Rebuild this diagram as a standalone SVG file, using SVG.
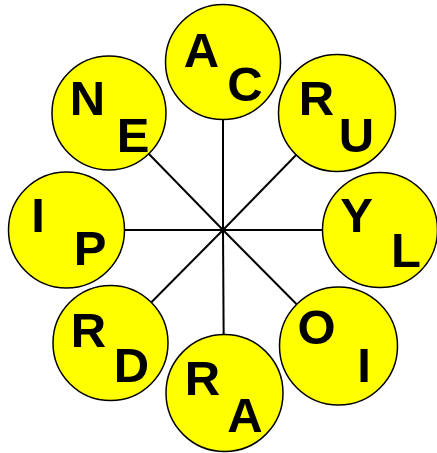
<svg xmlns="http://www.w3.org/2000/svg" width="437" height="453" viewBox="0 0 437 453">
<style>
.c{fill:#ffff00;stroke:#000;stroke-width:1.5}
.t{font-family:"Liberation Sans",Arial,sans-serif;font-weight:bold;font-size:49px;fill:#000;text-anchor:middle}
.l{stroke:#000;stroke-width:2}
</style>
<rect width="437" height="453" fill="#fff"/>
<g id="connectors">
<line class="l" x1="223" y1="230" x2="223" y2="62"/>
<line class="l" x1="223" y1="230" x2="109" y2="113"/>
<line class="l" x1="223" y1="230" x2="337" y2="113"/>
<line class="l" x1="223" y1="230" x2="66" y2="230"/>
<line class="l" x1="223" y1="230" x2="380" y2="230"/>
<line class="l" x1="223" y1="230" x2="110" y2="344"/>
<line class="l" x1="223" y1="230" x2="338" y2="346"/>
<line class="l" x1="223" y1="230" x2="224" y2="393"/>
</g>
<g id="node-AC"><circle class="c" cx="223" cy="62" r="57.5"/><text class="t" x="201.5" y="67">A</text><text class="t" x="245" y="101">C</text></g>
<g id="node-NE"><circle class="c" cx="109" cy="113" r="57"/><text class="t" x="87.5" y="115">N</text><text class="t" x="133" y="152">E</text></g>
<g id="node-RU"><circle class="c" cx="337" cy="113" r="58.5"/><text class="t" x="316.5" y="115">R</text><text class="t" x="356.5" y="152">U</text></g>
<g id="node-IP"><circle class="c" cx="66.5" cy="230" r="58"/><text class="t" x="38" y="232">I</text><text class="t" x="90" y="265">P</text></g>
<g id="node-YL"><circle class="c" cx="380" cy="230" r="57.5"/><text class="t" x="356.5" y="232">Y</text><text class="t" x="406" y="267">L</text></g>
<g id="node-RD"><circle class="c" cx="110.5" cy="343" r="57.5"/><text class="t" x="88.5" y="347">R</text><text class="t" x="131.5" y="382">D</text></g>
<g id="node-OI"><circle class="c" cx="338.5" cy="346" r="59"/><text class="t" x="316.5" y="344">O</text><text class="t" x="364" y="382">I</text></g>
<g id="node-RA"><circle class="c" cx="224.5" cy="393" r="58.5"/><text class="t" x="202.5" y="395">R</text><text class="t" x="245" y="432">A</text></g>
</svg>
